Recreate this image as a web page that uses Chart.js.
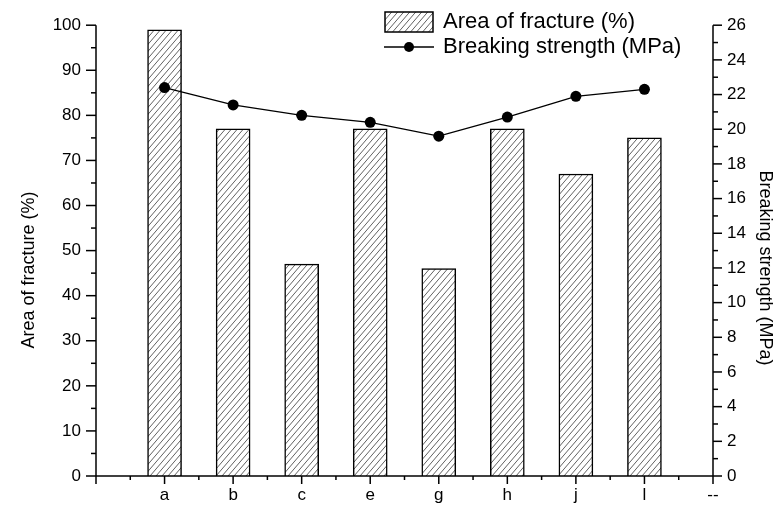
<!DOCTYPE html>
<html>
<head>
<meta charset="utf-8">
<script src="https://cdn.jsdelivr.net/npm/chart.js@4/dist/chart.umd.min.js"></script>
<style>
  html, body { margin: 0; padding: 0; background: #fff; }
  #wrap { width: 783px; height: 510px; }
</style>
</head>
<body>
<div id="wrap"><canvas id="c" width="783" height="510"></canvas></div>
<script>
// Samples along the x axis
const categories = ['a', 'b', 'c', 'e', 'g', 'h', 'j', 'l'];
// Area of fracture (%) for each sample (bars, left axis)
const fractureArea = [99, 77, 47, 77, 46, 77, 67, 75];
// Breaking strength (MPa) for each sample (line, right axis)
const breakingStrength = [22.4, 21.4, 20.8, 20.4, 19.6, 20.7, 21.9, 22.3];
// X tick labels: an empty slot at the left axis and a trailing "--" slot at the right axis
const xTickLabels = ['', ...categories, '--'];

const FONT = "'Liberation Sans', Arial, sans-serif";
const canvas = document.getElementById('c');
const ctx0 = canvas.getContext('2d');

// Diagonal hatch fill used by the bars and the legend swatch
function makeHatch() {
  const w = 6, h = 7;
  const tile = document.createElement('canvas');
  tile.width = w; tile.height = h;
  const g = tile.getContext('2d');
  g.fillStyle = '#fff';
  g.fillRect(0, 0, w, h);
  g.strokeStyle = '#444';
  g.lineWidth = 0.85;
  for (const dx of [-w, 0, w]) {
    g.beginPath();
    g.moveTo(dx, h);
    g.lineTo(dx + w, 0);
    g.stroke();
  }
  return ctx0.createPattern(tile, 'repeat');
}
const hatch = makeHatch();

const padded = arr => [null, ...arr, null];

// Axis lines, major/minor tick marks, axis titles and the legend box
const decorations = {
  id: 'decorations',
  afterDraw(chart) {
    const { ctx, chartArea: ca, scales } = chart;
    ctx.save();
    ctx.strokeStyle = '#000';
    ctx.lineWidth = 1.5;
    const line = (x1, y1, x2, y2) => {
      ctx.beginPath(); ctx.moveTo(x1, y1); ctx.lineTo(x2, y2); ctx.stroke();
    };
    // axis lines (left, right, bottom)
    line(ca.left, ca.top, ca.left, ca.bottom);
    line(ca.right, ca.top, ca.right, ca.bottom);
    line(ca.left, ca.bottom, ca.right, ca.bottom);

    // left axis ticks: major every 10, minor every 5
    for (let v = 0; v <= 100; v += 5) {
      const y = scales.y.getPixelForValue(v);
      const len = v % 10 === 0 ? 10 : 5;
      line(ca.left - len, y, ca.left, y);
    }
    // right axis ticks: major every 2, minor every 1
    for (let v = 0; v <= 26; v += 1) {
      const y = scales.y1.getPixelForValue(v);
      const len = v % 2 === 0 ? 9 : 5;
      line(ca.right, y, ca.right + len, y);
    }
    // bottom axis ticks: major at each slot, minor halfway between
    for (let i = 0; i < xTickLabels.length; i++) {
      const x = scales.x.getPixelForValue(i);
      line(x, ca.bottom, x, ca.bottom + 8);
      if (i < xTickLabels.length - 1) {
        const xm = scales.x.getPixelForValue(i + 0.5);
        line(xm, ca.bottom, xm, ca.bottom + 4);
      }
    }

    // axis titles
    ctx.fillStyle = '#000';
    ctx.font = '18px ' + FONT;
    ctx.textAlign = 'center';
    ctx.textBaseline = 'middle';
    ctx.save();
    ctx.translate(29, 270);
    ctx.rotate(-Math.PI / 2);
    ctx.fillText('Area of fracture (%)', 0, 0);
    ctx.restore();
    ctx.save();
    ctx.translate(765, 268);
    ctx.rotate(Math.PI / 2);
    ctx.fillText('Breaking strength (MPa)', 0, 0);
    ctx.restore();

    // legend
    const lx = 385, tx = 443;
    ctx.fillStyle = hatch;
    ctx.fillRect(lx, 12, 48, 20);
    ctx.lineWidth = 1.5;
    ctx.strokeRect(lx, 12, 48, 20);
    ctx.lineWidth = 1.3;
    line(lx - 1, 47, lx + 49, 47);
    ctx.fillStyle = '#000';
    ctx.beginPath();
    ctx.arc(lx + 24, 47, 5, 0, Math.PI * 2);
    ctx.fill();
    ctx.font = '22px ' + FONT;
    ctx.textBaseline = 'middle';
    ctx.textAlign = 'left';
    ctx.fillText('Area of fracture (%)', tx, 22);
    ctx.fillText('Breaking strength (MPa)', tx, 47);
    ctx.restore();
  }
};

const tickFont = { family: FONT, size: 17 };

new Chart(canvas, {
  type: 'bar',
  data: {
    labels: xTickLabels,
    datasets: [
      {
        type: 'line',
        label: 'Breaking strength (MPa)',
        data: padded(breakingStrength),
        yAxisID: 'y1',
        borderColor: '#000',
        borderWidth: 1.3,
        pointRadius: 5.5,
        pointBackgroundColor: '#000',
        pointBorderWidth: 0,
        tension: 0,
        order: 0
      },
      {
        type: 'bar',
        label: 'Area of fracture (%)',
        data: padded(fractureArea),
        yAxisID: 'y',
        backgroundColor: hatch,
        borderColor: '#000',
        borderWidth: 1.5,
        barThickness: 34,
        order: 1
      }
    ]
  },
  options: {
    responsive: false,
    animation: false,
    devicePixelRatio: 1,
    layout: { padding: { top: 22, left: 0, right: 0, bottom: 0 } },
    plugins: {
      legend: { display: false },
      tooltip: { enabled: false }
    },
    scales: {
      x: {
        type: 'category',
        offset: false,
        grid: { display: false, drawTicks: false },
        border: { display: false },
        ticks: { font: tickFont, color: '#000', padding: 9, autoSkip: false, maxRotation: 0 },
        afterFit: s => { s.height = 34; }
      },
      y: {
        position: 'left',
        min: 0, max: 100,
        grid: { display: false, drawTicks: false },
        border: { display: false },
        ticks: { stepSize: 10, font: tickFont, color: '#000', padding: 15 },
        afterFit: s => { s.width = 96; }
      },
      y1: {
        position: 'right',
        min: 0, max: 26,
        grid: { display: false, drawTicks: false },
        border: { display: false },
        ticks: { stepSize: 2, font: tickFont, color: '#000', padding: 14 },
        afterFit: s => { s.width = 70; }
      }
    }
  },
  plugins: [decorations]
});
</script>
</body>
</html>
